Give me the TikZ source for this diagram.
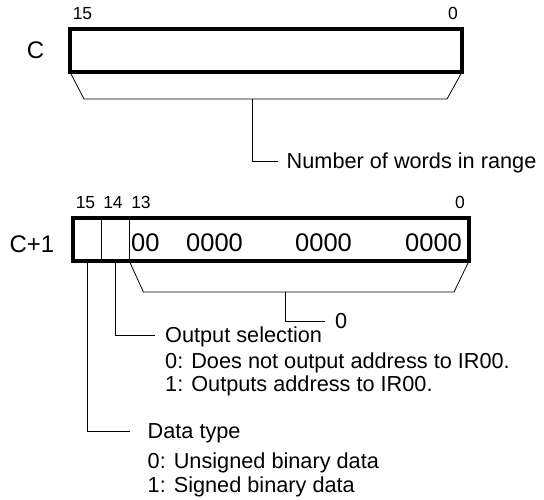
\documentclass[tikz,border=0pt]{standalone}
\usepackage{fontspec}
\setmainfont{Liberation Sans}
\usetikzlibrary{positioning}

\begin{document}
\begin{tikzpicture}[x=1pt, y=-1pt,
    wordbox/.style={draw, line width=3.2pt, outer sep=0pt, inner sep=0pt,
                    minimum height=43pt},
    lead/.style={line width=0.8pt},
    txt/.style={inner sep=0pt, font=\fontsize{21.7}{26}\selectfont,
                text height=15.5pt, text depth=0pt},
    bitno/.style={inner sep=0pt, font=\fontsize{17.5}{21}\selectfont,
                  text height=12.5pt, text depth=0pt},
    wname/.style={inner sep=0pt, font=\fontsize{24}{28}\selectfont,
                  text height=17.2pt, text depth=0pt},
    digits/.style={inner sep=0pt, anchor=west, font=\fontsize{25.5}{30}\selectfont,
                   text height=18.3pt, text depth=0pt}
]
\useasboundingbox (0,0) rectangle (544,500);

% word C
\node[wordbox, minimum width=392pt] (w0) at (266,50.5) {};
\node[wname] (n0) at (35.5,49.5) {C};
\node[bitno] (w0b15) at (82.5,13.5) {15};
\node[bitno] (w0b0) at (453,13.5) {0};

\coordinate (w0l) at (84,99);
\coordinate (w0r) at (447,99);
\coordinate (w0s) at (252,99);
\coordinate (w0e) at (278,161);
\draw[lead] (w0.south west) -- (w0l) -- (w0r) -- (w0.south east);
\draw[lead] (w0s) |- (w0e);
\node[txt, right=8.5pt of w0e] (cnt) {Number of words in range};

% word C+1
\node[wordbox, minimum width=396pt] (w1) at (271,239.5) {};
\node[wname] (n1) at (32,243.5) {C+1};
\node[bitno] (w1b15) at (85.5,202.5) {15};
\node[bitno] (w1b14) at (113,202.5) {14};
\node[bitno] (w1b13) at (141,202.5) {13};
\node[bitno] (w1b0) at (460,202.5) {0};
\draw[lead] ([xshift=28.5pt]w1.north west) -- ([xshift=28.5pt]w1.south west);
\draw[lead] ([xshift=56.3pt]w1.north west) -- ([xshift=56.3pt]w1.south west);

\node[digits] (g1) at (131,242.5) {00};
\node[digits] (g2) at (186,242.5) {0000};
\node[digits] (g3) at (295,242.5) {0000};
\node[digits] (g4) at (405,242.5) {0000};

\coordinate (w1l) at (143.4,292);
\coordinate (w1r) at (454,292);
\coordinate (w1s) at (285,292);
\coordinate (w1e) at (325,321);
\draw[lead] ([xshift=56.3pt]w1.south west) -- (w1l) -- (w1r) -- (w1.south east);
\draw[lead] (w1s) |- (w1e);
\node[txt, right=10pt of w1e] (zero) {0};

% bit 14
\coordinate (ose) at (154.5,335);
\draw[lead] ([xshift=42.3pt]w1.south west) |- (ose);
\node[txt, right=10.5pt of ose] (osel) {Output selection};
\node[txt, anchor=west] (os0) at ([yshift=-25.5pt]osel.west) {0: Does not output address to IR00.};
\node[txt, anchor=west] (os1) at ([yshift=-23pt]os0.west) {1: Outputs address to IR00.};

% bit 15
\coordinate (dte) at (130,431);
\draw[lead] ([xshift=14.3pt]w1.south west) |- (dte);
\node[txt, right=17.5pt of dte] (dtype) {Data type};
\node[txt, anchor=west] (dt0) at ([yshift=-30pt]dtype.west) {0: Unsigned binary data};
\node[txt, anchor=west] (dt1) at ([yshift=-24pt]dt0.west) {1: Signed binary data};
\end{tikzpicture}
\end{document}
